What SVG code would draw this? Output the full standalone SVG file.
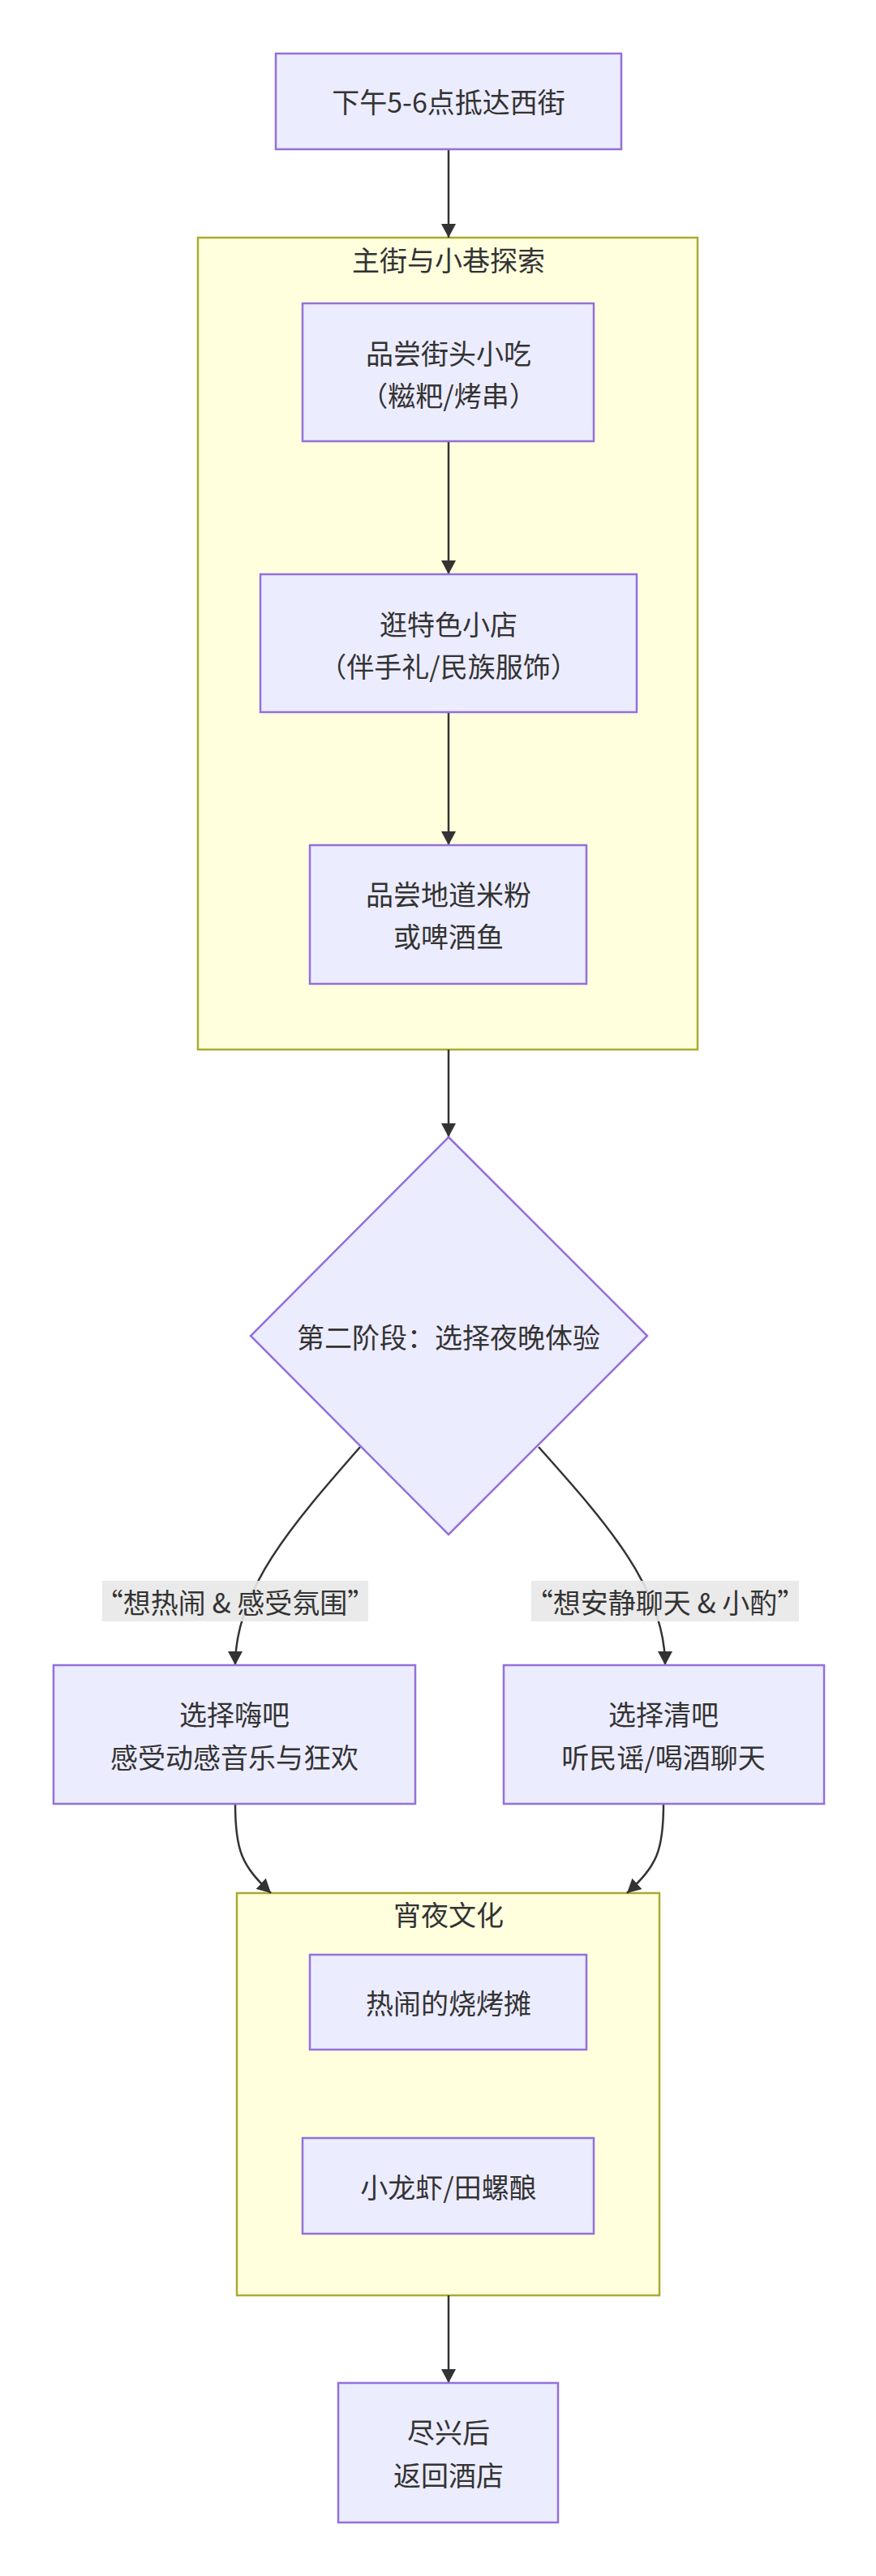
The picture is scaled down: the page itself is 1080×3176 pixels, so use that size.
<svg xmlns="http://www.w3.org/2000/svg" width="1080" height="3176" viewBox="0 0 1080 3176">
<style>
  text { font-family: "Noto Sans CJK SC", "Noto Sans", "Liberation Sans", sans-serif; font-size: 34px; fill: #333333; text-anchor: middle; dominant-baseline: central; }
  .node { fill: #ECECFF; stroke: #9370DB; stroke-width: 2.5; }
  .cluster { fill: #FFFFDE; stroke: #AAAA33; stroke-width: 2.5; }
  .edge { fill: none; stroke: #333333; stroke-width: 2.5; }
  .lbl { fill: #E8E8E8; fill-opacity: 0.9; stroke: none; }
</style>
<defs>
  <marker id="arrow" viewBox="0 0 10 10" refX="10" refY="5" markerWidth="17" markerHeight="18" markerUnits="userSpaceOnUse" orient="auto" preserveAspectRatio="none">
    <path d="M0,0 L10,5 L0,10 z" fill="#333333"/>
  </marker>
</defs>
<rect width="1080" height="3176" fill="#FFFFFF"/>

<g id="cluster-main">
  <rect class="cluster" x="244" y="293" width="616" height="1001"/>
  <text x="553" y="319">主街与小巷探索</text>
</g>
<g id="cluster-night">
  <rect class="cluster" x="292" y="2334" width="521" height="496"/>
  <text x="553" y="2359">宵夜文化</text>
</g>

<g id="connectors">
  <path class="edge" d="M553,184 L553,293" marker-end="url(#arrow)"/>
  <path class="edge" d="M553,545 L553,708" marker-end="url(#arrow)"/>
  <path class="edge" d="M553,879 L553,1042" marker-end="url(#arrow)"/>
  <path class="edge" d="M553,1294 L553,1402" marker-end="url(#arrow)"/>
  <path class="edge" d="M444,1784 C360,1880 290,1960 290,2053" marker-end="url(#arrow)"/>
  <path class="edge" d="M664,1784 C750,1880 820,1960 820,2053" marker-end="url(#arrow)"/>
  <path class="edge" d="M290,2224 C290,2282 298,2300 334,2334" marker-end="url(#arrow)"/>
  <path class="edge" d="M818,2224 C818,2282 810,2300 773,2334" marker-end="url(#arrow)"/>
  <path class="edge" d="M553,2830 L553,2938" marker-end="url(#arrow)"/>
  <g id="label-left">
    <rect class="lbl" x="126" y="1949" width="328" height="50"/>
    <text x="290" y="1974">“想热闹 &amp; 感受氛围”</text>
  </g>
  <g id="label-right">
    <rect class="lbl" x="655" y="1949" width="330" height="50"/>
    <text x="820" y="1974">“想安静聊天 &amp; 小酌”</text>
  </g>
</g>

<g id="node-start">
  <rect class="node" x="340" y="66" width="426" height="118"/>
  <text x="553" y="124">下午5-6点抵达西街</text>
</g>
<g id="node-snack">
  <rect class="node" x="373" y="374" width="359" height="170"/>
  <text x="553" y="434">品尝街头小吃</text>
  <text x="553" y="486">（糍粑/烤串）</text>
</g>
<g id="node-shop">
  <rect class="node" x="321" y="708" width="464" height="170"/>
  <text x="553" y="768">逛特色小店</text>
  <text x="553" y="820">（伴手礼/民族服饰）</text>
</g>
<g id="node-noodle">
  <rect class="node" x="382" y="1042" width="341" height="171"/>
  <text x="553" y="1101">品尝地道米粉</text>
  <text x="553" y="1153">或啤酒鱼</text>
</g>
<g id="node-decision">
  <polygon class="node" points="553,1402 798,1647 553,1892 309,1647"/>
  <text x="553" y="1647">第二阶段：选择夜晚体验</text>
</g>
<g id="node-hibar">
  <rect class="node" x="66" y="2053" width="446" height="171"/>
  <text x="289" y="2112">选择嗨吧</text>
  <text x="289" y="2165">感受动感音乐与狂欢</text>
</g>
<g id="node-quietbar">
  <rect class="node" x="621" y="2053" width="395" height="171"/>
  <text x="818" y="2112">选择清吧</text>
  <text x="818" y="2165">听民谣/喝酒聊天</text>
</g>
<g id="node-bbq">
  <rect class="node" x="382" y="2410" width="341" height="117"/>
  <text x="553" y="2468">热闹的烧烤摊</text>
</g>
<g id="node-crayfish">
  <rect class="node" x="373" y="2636" width="359" height="118"/>
  <text x="553" y="2695">小龙虾/田螺酿</text>
</g>
<g id="node-end">
  <rect class="node" x="417" y="2938" width="271" height="172"/>
  <text x="553" y="2997">尽兴后</text>
  <text x="553" y="3050">返回酒店</text>
</g>
</svg>
